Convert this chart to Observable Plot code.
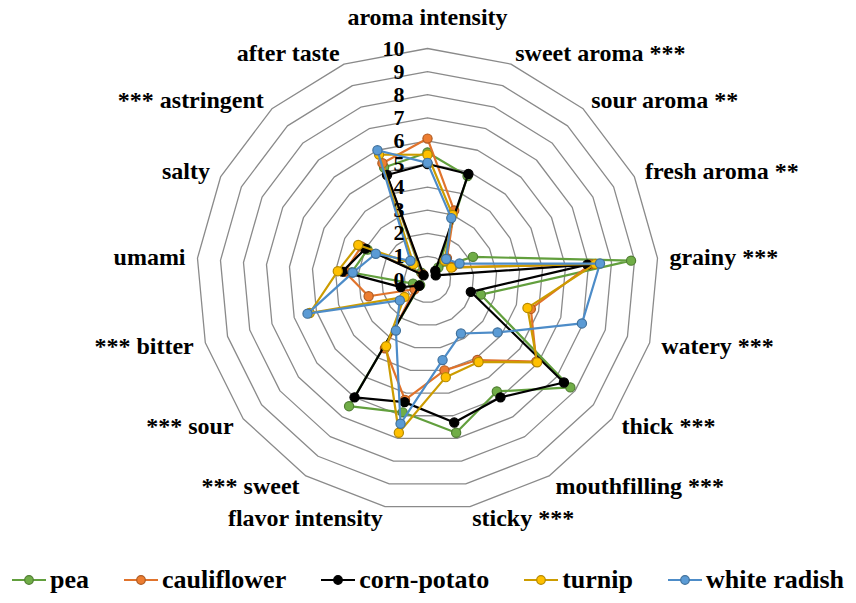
<!DOCTYPE html>
<html><head><meta charset="utf-8">
<script src="https://cdn.jsdelivr.net/npm/d3@7"></script>
<script src="https://cdn.jsdelivr.net/npm/@observablehq/plot@0.6"></script>
<style>
html,body{margin:0;padding:0;background:#fff;}
body{width:856px;height:603px;overflow:hidden;font-family:"Liberation Serif",serif;font-weight:bold;}
#legend{display:flex;justify-content:center;align-items:center;gap:35px;height:47px;font-size:26px;color:#000;}
.item{display:flex;align-items:center;gap:4px;}
</style></head><body>
<div id="chart"></div><div id="legend"></div>
<script>
const categories = ["aroma intensity","sweet aroma ***","sour aroma **","fresh aroma **","grainy ***","watery ***","thick ***","mouthfilling ***","sticky ***","flavor intensity","*** sweet","*** sour","*** bitter","umami","salty","*** astringent","after taste"];
const seriesNames = ["pea","cauliflower","corn-potato","turnip","white radish"];
const pea         = [5.5, 4.8, 0.7, 2.2, 8.85, 2.4, 7.75, 5.7, 6.75, 5.85, 6.45, 0.4, 0.65, 3.3, 2.9, 0.4, 5.2];
const cauliflower = [6.1, 3.2, 1.25, 1.2, 7.1, 4.65, 5.9, 4.1, 4.0, 5.3, 3.5, 0.7, 2.65, 3.6, 3.2, 0.3, 5.4];
const cornPotato  = [5.0, 4.9, 0.5, 0.4, 6.95, 1.95, 7.4, 6.0, 6.3, 5.4, 6.0, 0.45, 1.2, 3.7, 3.0, 0.25, 4.85];
const turnip      = [5.4, 3.0, 1.1, 1.15, 7.3, 4.5, 5.95, 4.2, 4.3, 6.75, 3.4, 1.25, 5.3, 3.9, 3.35, 0.9, 5.8];
const whiteRadish = [5.05, 2.85, 1.2, 1.55, 7.5, 6.95, 3.8, 2.75, 3.55, 6.35, 2.6, 1.5, 5.4, 3.25, 2.5, 1.1, 6.0];
const tickValues = [0,1,2,3,4,5,6,7,8,9,10];
const tickLabels = ["0","1","2","3","4","5","6","7","8","9","10"];

const seriesValues = [pea, cauliflower, cornPotato, turnip, whiteRadish];
const lineColors = ["#629f3d","#e0732c","#000000","#cc9c00","#4d8cc8"];
const fillColors = ["#70ad47","#ed7d31","#000000","#ffc000","#5b9bd5"];
const edgeColors = ["#507e32","#ae5a21","#000000","#b58900","#41719c"];

const W = 856, H = 556, CX = 427, CY = 279, U = 23.1;
const n = categories.length;
const ang = i => 2 * Math.PI * i / n;
const px = (i, v) => v * Math.sin(ang(i));
const py = (i, v) => v * Math.cos(ang(i));

const rings = [];
for (const lv of tickValues.slice(1)) for (let i = 0; i <= n; i++) rings.push({lv, x: px(i % n, lv), y: py(i % n, lv)});

const rows = seriesValues.map((vals, s) => vals.map((v, i) => ({s, cat: categories[i], v, x: px(i, v), y: py(i, v)})));

const labels = categories.map((c, i) => {
  const sin = Math.sin(ang(i));
  const rr = i === 0 ? 10 + 31 / U : 10 + 12 / U;
  return {c, x: px(i, rr), y: py(i, rr), anchor: Math.abs(sin) < 0.1 ? "middle" : (sin > 0 ? "start" : "end")};
});

const font = {fontFamily: "Liberation Serif", fontWeight: "bold", fontSize: 24, fill: "#000"};
const marks = [
  Plot.line(rings, {x: "x", y: "y", z: "lv", stroke: "#8a8a8a", strokeWidth: 1.3})
];
rows.forEach((r, s) => {
  marks.push(Plot.line([...r, r[0]], {x: "x", y: "y", stroke: lineColors[s], strokeWidth: 2.2}));
  marks.push(Plot.dot(r, {x: "x", y: "y", r: 4.6, fill: fillColors[s], stroke: edgeColors[s], strokeWidth: 1.2}));
});
for (const a of ["start","middle","end"]) {
  marks.push(Plot.text(labels.filter(d => d.anchor === a), {x: "x", y: "y", text: "c", textAnchor: a, ...font}));
}
marks.push(Plot.text(tickValues.map((v, k) => ({v, t: tickLabels[k]})), {x: () => 0, y: "v", text: "t", dx: -23, textAnchor: "end", ...font, fontSize: 22}));

const chart = Plot.plot({
  width: W, height: H, margin: 0,
  x: {type: "linear", domain: [-CX / U, (W - CX) / U], range: [0, W], axis: null},
  y: {type: "linear", domain: [-(H - CY) / U, CY / U], range: [H, 0], axis: null},
  style: {background: "#fff", overflow: "visible"},
  marks
});
document.getElementById("chart").appendChild(chart);

const legend = document.getElementById("legend");
seriesNames.forEach((name, s) => {
  const item = document.createElement("div");
  item.className = "item";
  item.innerHTML = `<svg width="34" height="12"><line x1="0" x2="34" y1="6" y2="6" stroke="${lineColors[s]}" stroke-width="2.2"/><circle cx="17" cy="6" r="4.3" fill="${fillColors[s]}" stroke="${edgeColors[s]}" stroke-width="1.2"/></svg><span>${name}</span>`;
  legend.appendChild(item);
});
</script>
</body></html>
